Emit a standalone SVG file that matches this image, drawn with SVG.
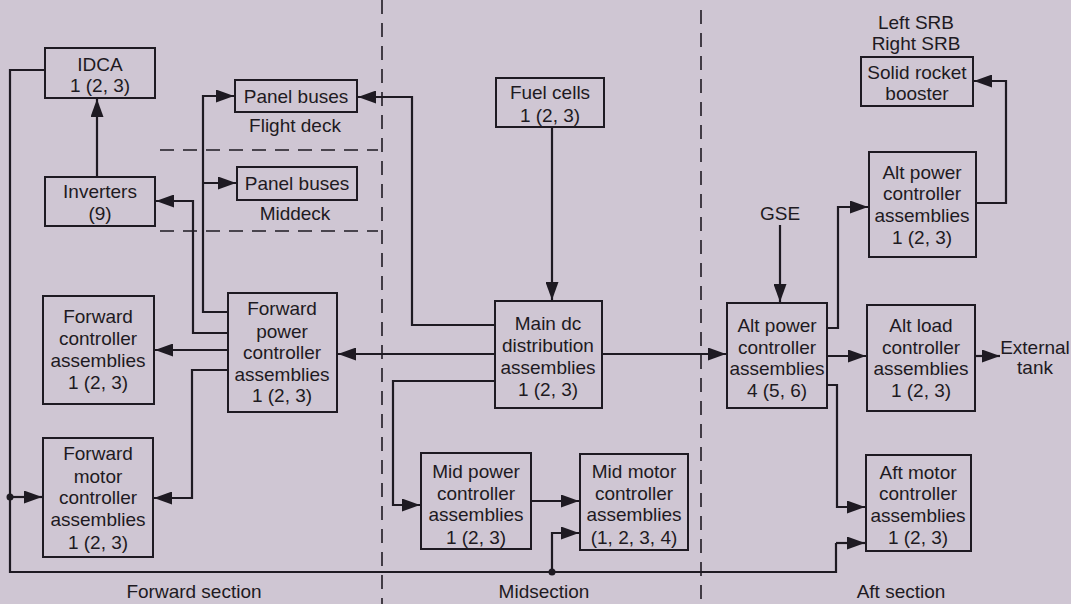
<svg xmlns="http://www.w3.org/2000/svg" width="1071" height="604" viewBox="0 0 1071 604">
<defs>
<marker id="ah" markerWidth="18" markerHeight="13" refX="18" refY="6.5" orient="auto" markerUnits="userSpaceOnUse">
<path d="M0,0 L18,6.5 L0,13 z" fill="#1e1a22"/>
</marker>
<style>
.box{fill:none;stroke:#1e1a22;stroke-width:2}
.t{font-family:"Liberation Sans",Arial,sans-serif;font-size:19px;fill:#1e1a22;text-anchor:middle}
.c{fill:none;stroke:#1e1a22;stroke-width:2.2}
.a{fill:none;stroke:#1e1a22;stroke-width:2.2;marker-end:url(#ah)}
.d{fill:none;stroke:#1e1a22;stroke-width:1.6;stroke-dasharray:14 9}
.dot{fill:#1e1a22}
</style>
</defs>
<rect width="1071" height="604" fill="#cfc6d3"/>

<g id="dividers">
<line class="d" x1="382" y1="0" x2="382" y2="604"/>
<line class="d" x1="701" y1="10" x2="701" y2="604"/>
<line class="d" x1="160" y1="150" x2="378" y2="150"/>
<line class="d" x1="160" y1="231" x2="378" y2="231"/>
</g>

<g id="connectors">
<path class="a" d="M97,177 L97,99"/>
<path class="c" d="M45,70 L10,70 L10,572 L836,572 L836,543"/>
<path class="a" d="M836,543 L865,543"/>
<path class="a" d="M10,497 L42,497"/>
<path class="a" d="M228,333 L193,333 L193,201 L156,201"/>
<path class="a" d="M228,312 L203,312 L203,96 L234,96"/>
<path class="a" d="M203,183 L236,183"/>
<path class="a" d="M228,350 L155,350"/>
<path class="a" d="M228,370 L192,370 L192,498 L154,498"/>
<path class="a" d="M552,127 L552,300"/>
<path class="a" d="M495,354 L338,354"/>
<path class="a" d="M602,354 L726,354"/>
<path class="a" d="M495,325 L412,325 L412,97 L358,97"/>
<path class="a" d="M495,381 L393,381 L393,505 L420,505"/>
<path class="a" d="M531,501 L579,501"/>
<path class="a" d="M552,572 L552,533 L579,533"/>
<path class="a" d="M780,225 L780,302"/>
<path class="a" d="M827,328 L838,328 L838,207 L868,207"/>
<path class="a" d="M976,203 L1006,203 L1006,81 L974,81"/>
<path class="a" d="M827,356 L866,356"/>
<path class="a" d="M827,385 L837,385 L837,507 L865,507"/>
<path class="a" d="M975,356 L1000,356"/>
<circle class="dot" cx="10" cy="497" r="3.5"/>
<circle class="dot" cx="552" cy="572" r="3.5"/>
</g>

<g id="idca">
<rect class="box" x="45" y="48" width="110" height="50"/>
<text class="t" x="100" y="71">IDCA</text>
<text class="t" x="100" y="92">1 (2, 3)</text>
</g>

<g id="inverters">
<rect class="box" x="45" y="177" width="110" height="49"/>
<text class="t" x="100" y="198">Inverters</text>
<text class="t" x="100" y="220">(9)</text>
</g>

<g id="panel-flight">
<rect class="box" x="235" y="80" width="122" height="32"/>
<text class="t" x="296" y="103">Panel buses</text>
<text class="t" x="295" y="132">Flight deck</text>
</g>

<g id="panel-middeck">
<rect class="box" x="237" y="167" width="120" height="33"/>
<text class="t" x="297" y="190">Panel buses</text>
<text class="t" x="295" y="220">Middeck</text>
</g>

<g id="fuel-cells">
<rect class="box" x="496" y="78" width="108" height="49"/>
<text class="t" x="550" y="99">Fuel cells</text>
<text class="t" x="550" y="122">1 (2, 3)</text>
</g>

<g id="fwd-ctrl">
<rect class="box" x="43" y="296" width="111" height="108"/>
<text class="t" x="98" y="323">Forward</text>
<text class="t" x="98" y="345">controller</text>
<text class="t" x="98" y="367">assemblies</text>
<text class="t" x="98" y="389">1 (2, 3)</text>
</g>

<g id="fwd-power">
<rect class="box" x="228" y="293" width="109" height="119"/>
<text class="t" x="282" y="315">Forward</text>
<text class="t" x="282" y="338">power</text>
<text class="t" x="282" y="359">controller</text>
<text class="t" x="282" y="381">assemblies</text>
<text class="t" x="282" y="402">1 (2, 3)</text>
</g>

<g id="fwd-motor">
<rect class="box" x="43" y="438" width="110" height="119"/>
<text class="t" x="98" y="460">Forward</text>
<text class="t" x="98" y="483">motor</text>
<text class="t" x="98" y="504">controller</text>
<text class="t" x="98" y="526">assemblies</text>
<text class="t" x="98" y="549">1 (2, 3)</text>
</g>

<g id="main-dc">
<rect class="box" x="495" y="301" width="107" height="107"/>
<text class="t" x="548" y="330">Main dc</text>
<text class="t" x="548" y="352">distribution</text>
<text class="t" x="548" y="374">assemblies</text>
<text class="t" x="548" y="396">1 (2, 3)</text>
</g>

<g id="mid-power">
<rect class="box" x="421" y="453" width="110" height="96"/>
<text class="t" x="476" y="478">Mid power</text>
<text class="t" x="476" y="500">controller</text>
<text class="t" x="476" y="521">assemblies</text>
<text class="t" x="476" y="544">1 (2, 3)</text>
</g>

<g id="mid-motor">
<rect class="box" x="580" y="454" width="108" height="96"/>
<text class="t" x="634" y="478">Mid motor</text>
<text class="t" x="634" y="500">controller</text>
<text class="t" x="634" y="521">assemblies</text>
<text class="t" x="634" y="544">(1, 2, 3, 4)</text>
</g>

<g id="gse">
<text class="t" x="780" y="220">GSE</text>
</g>

<g id="srb">
<text class="t" x="916" y="29">Left SRB</text>
<text class="t" x="916" y="50">Right SRB</text>
<rect class="box" x="861" y="57" width="112" height="49"/>
<text class="t" x="917" y="79">Solid rocket</text>
<text class="t" x="917" y="100">booster</text>
</g>

<g id="alt-power-1">
<rect class="box" x="869" y="152" width="107" height="105"/>
<text class="t" x="922" y="179">Alt power</text>
<text class="t" x="922" y="200">controller</text>
<text class="t" x="922" y="222">assemblies</text>
<text class="t" x="922" y="244">1 (2, 3)</text>
</g>

<g id="alt-power-4">
<rect class="box" x="727" y="303" width="100" height="105"/>
<text class="t" x="777" y="332">Alt power</text>
<text class="t" x="777" y="354">controller</text>
<text class="t" x="777" y="375">assemblies</text>
<text class="t" x="777" y="397">4 (5, 6)</text>
</g>

<g id="alt-load">
<rect class="box" x="867" y="305" width="108" height="106"/>
<text class="t" x="921" y="332">Alt load</text>
<text class="t" x="921" y="354">controller</text>
<text class="t" x="921" y="375">assemblies</text>
<text class="t" x="921" y="397">1 (2, 3)</text>
</g>

<g id="external-tank">
<text class="t" x="1035" y="354">External</text>
<text class="t" x="1035" y="374">tank</text>
</g>

<g id="aft-motor">
<rect class="box" x="866" y="455" width="105" height="96"/>
<text class="t" x="918" y="479">Aft motor</text>
<text class="t" x="918" y="500">controller</text>
<text class="t" x="918" y="522">assemblies</text>
<text class="t" x="918" y="544">1 (2, 3)</text>
</g>

<g id="section-labels">
<text class="t" x="194" y="598">Forward section</text>
<text class="t" x="544" y="598">Midsection</text>
<text class="t" x="901" y="598">Aft section</text>
</g>
</svg>
